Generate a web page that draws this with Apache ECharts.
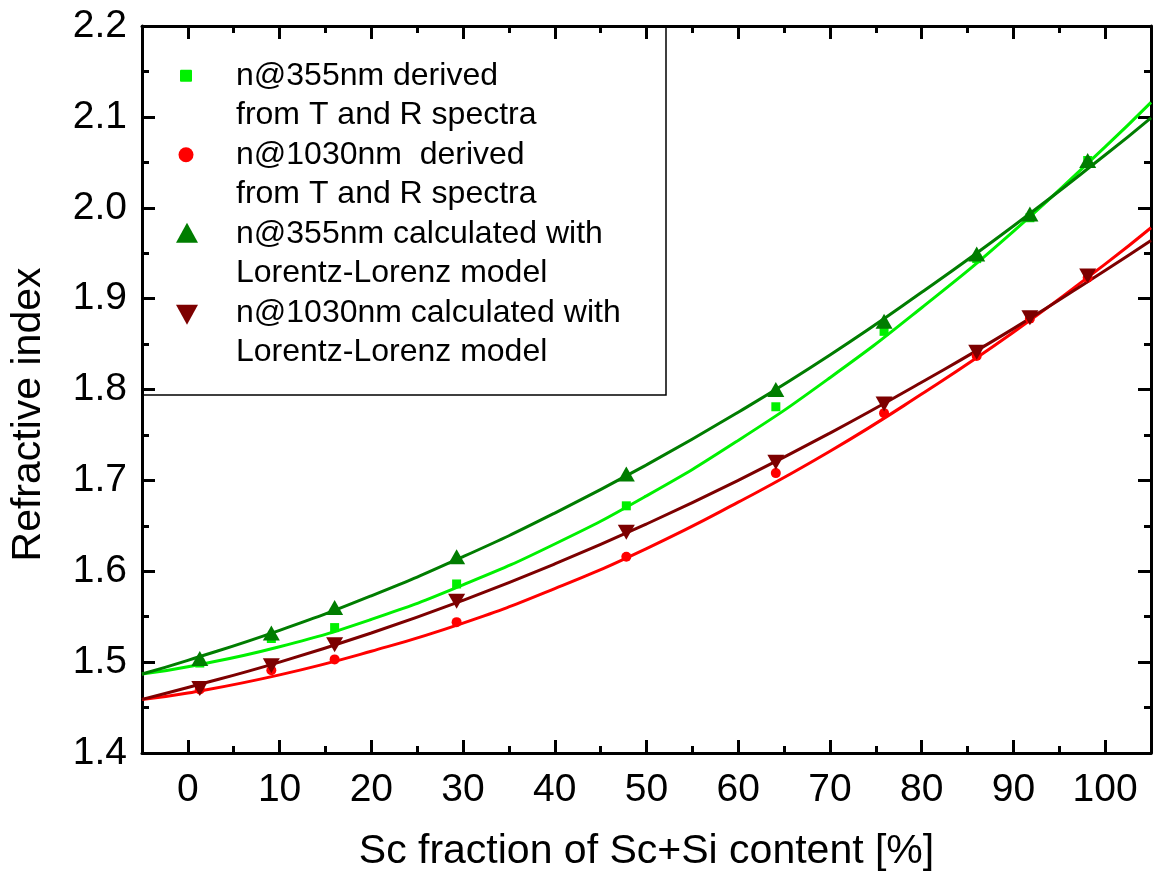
<!DOCTYPE html>
<html>
<head>
<meta charset="utf-8">
<script src="https://cdn.jsdelivr.net/npm/echarts@6/dist/echarts.min.js"></script>
<style>
  html, body { margin: 0; padding: 0; background: #ffffff; }
  #chart { width: 1153px; height: 873px; }
</style>
</head>
<body>
<div id="chart"></div>
<script>
// Sc fraction of the Sc+Si content (%) of each sample
const scFraction = [1.3, 9.1, 16.0, 29.3, 47.8, 64.1, 75.9, 86.0, 91.8, 98.1];

// Refractive index per sample
const n355Derived  = [1.499, 1.526, 1.538, 1.586, 1.672, 1.781, 1.864, 1.944, 1.989, 2.052];
const n1030Derived = [1.470, 1.491, 1.503, 1.544, 1.616, 1.708, 1.774, 1.837, 1.878, 1.923];
const n355LL       = [1.504, 1.532, 1.560, 1.616, 1.707, 1.800, 1.875, 1.949, 1.993, 2.052];
const n1030LL      = [1.471, 1.496, 1.519, 1.567, 1.643, 1.720, 1.784, 1.841, 1.879, 1.925];

// Fitted trend curves, sampled across the whole axis range
const fitX            = [-5, 0, 10, 20, 30, 40, 50, 60, 70, 80, 90, 100, 105];
const fit355Derived   = [1.487, 1.495, 1.517, 1.547, 1.585, 1.630, 1.683, 1.744, 1.813, 1.890, 1.974, 2.067, 2.116];
const fit1030Derived  = [1.459, 1.466, 1.486, 1.512, 1.543, 1.581, 1.625, 1.676, 1.732, 1.795, 1.863, 1.938, 1.978];
const fit355LL        = [1.487, 1.502, 1.535, 1.573, 1.616, 1.664, 1.717, 1.775, 1.838, 1.907, 1.980, 2.058, 2.099];
const fit1030LL       = [1.459, 1.472, 1.500, 1.532, 1.568, 1.608, 1.652, 1.700, 1.752, 1.808, 1.867, 1.931, 1.964];

// Axis ticks
const xMajorTicks = [0, 10, 20, 30, 40, 50, 60, 70, 80, 90, 100];
const xMinorTicks = [5, 15, 25, 35, 45, 55, 65, 75, 85, 95];

// Legend entries
const legendLines = [
  'n@355nm derived\nfrom T and R spectra',
  'n@1030nm  derived\nfrom T and R spectra',
  'n@355nm calculated with\nLorentz-Lorenz model',
  'n@1030nm calculated with\nLorentz-Lorenz model'
];

const FONT = '"Liberation Sans", Arial, sans-serif';
const C_LIGHT_GREEN = '#00f000';
const C_DARK_GREEN = '#007d00';
const C_RED = '#ff0000';
const C_DARK_RED = '#7d0000';

const zip = (xs, ys) => xs.map((x, i) => [x, ys[i]]);

const xRange = { type: 'value', min: -5, max: 105, splitLine: { show: false } };
const axisLineStyle = { show: true, onZero: false, lineStyle: { color: '#000', width: 3 } };

function xAxisPair(position, withLabels) {
  const major = Object.assign({}, xRange, {
    position: position,
    axisLine: axisLineStyle,
    axisTick: { show: true, inside: true, length: 13, customValues: xMajorTicks,
                lineStyle: { color: '#000', width: 3 } },
    axisLabel: withLabels
      ? { show: true, customValues: xMajorTicks, fontSize: 39, color: '#000', fontFamily: FONT, margin: 18 }
      : { show: false }
  });
  if (withLabels) {
    major.name = 'Sc fraction of Sc+Si content [%]';
    major.nameLocation = 'middle';
    major.nameGap = 78;
    major.nameTextStyle = { fontSize: 41, color: '#000', fontFamily: FONT };
  }
  const minor = Object.assign({}, xRange, {
    position: position,
    axisLine: { show: false },
    axisTick: { show: true, inside: true, length: 7, customValues: xMinorTicks,
                lineStyle: { color: '#000', width: 3 } },
    axisLabel: { show: false }
  });
  return [major, minor];
}

function yAxis(position, withLabels) {
  const ax = {
    type: 'value', min: 1.4, max: 2.2, interval: 0.1, position: position,
    splitLine: { show: false },
    axisLine: axisLineStyle,
    axisTick: { show: true, inside: true, length: 13, lineStyle: { color: '#000', width: 3 } },
    minorTick: { show: true, splitNumber: 2, length: 7, lineStyle: { color: '#000', width: 3 } },
    axisLabel: withLabels
      ? { show: true, fontSize: 39, color: '#000', fontFamily: FONT, margin: 15,
          formatter: v => v.toFixed(1) }
      : { show: false }
  };
  if (withLabels) {
    ax.name = 'Refractive index';
    ax.nameLocation = 'middle';
    ax.nameGap = 93;
    // extra trailing padding moves the title a little toward the bottom of the axis
    ax.nameTextStyle = { fontSize: 41, color: '#000', fontFamily: FONT, padding: [0, 50, 0, 0] };
  }
  return ax;
}

function fitSeries(ys, color) {
  return {
    type: 'line', data: zip(fitX, ys), smooth: true, showSymbol: false, symbol: 'none',
    lineStyle: { color: color, width: 3 }, silent: true, z: 2
  };
}

function pointSeries(ys, color, symbol, size, rotate) {
  return {
    type: 'scatter', data: zip(scFraction, ys), symbol: symbol, symbolSize: size,
    symbolRotate: rotate || 0, itemStyle: { color: color, opacity: 1 }, z: 3
  };
}

// Legend box drawn in the upper-left corner of the plot
const legendX = 236, legendTop = 56, legendStep = 79, lineH = 39.5;
const markX = 186;
const legendGraphic = {
  type: 'group', z: 100,
  children: [
    { type: 'rect', shape: { x: 143, y: 27, width: 523, height: 368 },
      style: { fill: '#ffffff', stroke: '#000', lineWidth: 1.5 } },
    { type: 'rect', shape: { x: markX - 6, y: legendTop + lineH / 2 - 6, width: 12, height: 12, r: 1 },
      style: { fill: C_LIGHT_GREEN } },
    { type: 'circle', shape: { cx: markX, cy: legendTop + legendStep + lineH / 2, r: 7.5 },
      style: { fill: C_RED } },
    { type: 'polygon', shape: { points: [
        [markX + 1, legendTop + 2 * legendStep + lineH / 2 - 11],
        [markX + 12, legendTop + 2 * legendStep + lineH / 2 + 9],
        [markX - 10, legendTop + 2 * legendStep + lineH / 2 + 9]] },
      style: { fill: C_DARK_GREEN } },
    { type: 'polygon', shape: { points: [
        [markX + 1, legendTop + 3 * legendStep + lineH / 2 + 12],
        [markX + 12, legendTop + 3 * legendStep + lineH / 2 - 8],
        [markX - 10, legendTop + 3 * legendStep + lineH / 2 - 8]] },
      style: { fill: C_DARK_RED } }
  ].concat(legendLines.map((t, i) => ({
    type: 'text',
    style: { text: t, x: legendX, y: legendTop + i * legendStep, fill: '#000',
             fontSize: 32, fontFamily: FONT, lineHeight: lineH, verticalAlign: 'top', align: 'left' }
  })))
};

const chart = echarts.init(document.getElementById('chart'), null, { renderer: 'canvas' });
chart.setOption({
  backgroundColor: '#ffffff',
  animation: false,
  grid: { left: 142, right: 2, top: 26, bottom: 120, containLabel: false, outerBoundsMode: 'none' },
  xAxis: xAxisPair('bottom', true).concat(xAxisPair('top', false)),
  yAxis: [yAxis('left', true), yAxis('right', false)],
  series: [
    fitSeries(fit355Derived, C_LIGHT_GREEN),
    fitSeries(fit1030Derived, C_RED),
    fitSeries(fit355LL, C_DARK_GREEN),
    fitSeries(fit1030LL, C_DARK_RED),
    pointSeries(n355Derived, C_LIGHT_GREEN, 'rect', 9),
    pointSeries(n1030Derived, C_RED, 'circle', 10),
    pointSeries(n355LL, C_DARK_GREEN, 'triangle', [17, 15]),
    pointSeries(n1030LL, C_DARK_RED, 'triangle', [17, 15], 180)
  ],
  graphic: [legendGraphic]
});
</script>
</body>
</html>
